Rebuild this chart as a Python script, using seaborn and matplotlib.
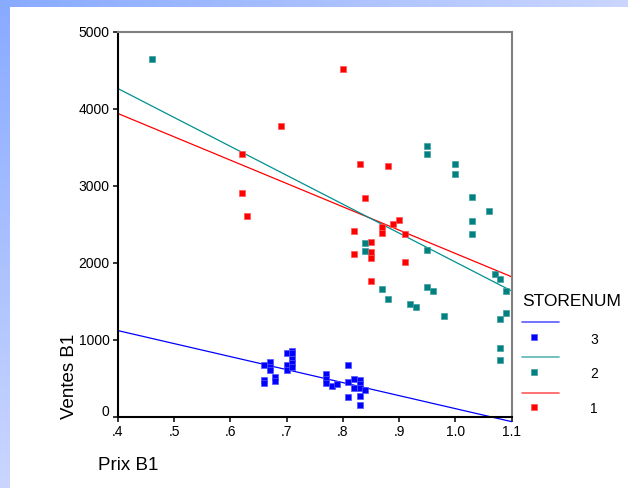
import numpy as np
import pandas as pd
import matplotlib
matplotlib.use("Agg")
import matplotlib.pyplot as plt
from matplotlib.lines import Line2D
import matplotlib.transforms as mtransforms
import seaborn as sns

# ---------------- data ----------------
store1_prix = [.80, .69, .62, .62, .63, .83, .88, .84, .90, .89, .87, .87, .82, .91,
               .85, .85, .85, .82, .91, .85]
store1_ventes = [4520, 3770, 3410, 2910, 2600, 3280, 3255, 2840, 2557, 2497, 2462, 2380,
                 2410, 2367, 2263, 2137, 2056, 2111, 2004, 1761]

store2_prix = [.46, .95, .95, 1.00, 1.00, 1.03, 1.06, 1.03, 1.03, .84, .84, .95, 1.07,
               1.08, 1.09, .87, .88, .95, .96, .92, .93, .98, 1.09, 1.08, 1.08, 1.08]
store2_ventes = [4650, 3520, 3410, 3285, 3150, 2856, 2670, 2536, 2367, 2254, 2150, 2160,
                 1855, 1783, 1627, 1657, 1531, 1679, 1635, 1458, 1427, 1310, 1345, 1263,
                 886, 738]

store3_prix = [.66, .66, .66, .67, .67, .67, .68, .68, .70, .70, .70, .71, .71, .71, .71,
               .71, .81, .77, .77, .77, .78, .79, .81, .81, .82, .82, .83, .83, .83, .83,
               .83, .84]
store3_ventes = [665, 470, 431, 708, 647, 604, 509, 465, 829, 665, 604, 855, 821, 743, 699,
                 647, 669, 548, 487, 435, 400, 426, 452, 249, 483, 366, 474, 418, 366, 266,
                 149, 344]

legend_order = [3, 2, 1]
x_ticks = [.4, .5, .6, .7, .8, .9, 1.0, 1.1]
x_ticklabels = [".4", ".5", ".6", ".7", ".8", ".9", "1.0", "1.1"]
y_ticks = [0, 1000, 2000, 3000, 4000, 5000]
y_ticklabels = ["0", "1000", "2000", "3000", "4000", "5000"]

df = pd.concat([
    pd.DataFrame({"prix": store1_prix, "ventes": store1_ventes, "store": 1}),
    pd.DataFrame({"prix": store2_prix, "ventes": store2_ventes, "store": 2}),
    pd.DataFrame({"prix": store3_prix, "ventes": store3_ventes, "store": 3}),
], ignore_index=True)

colors = {3: "#0000ff", 2: "#008080", 1: "#ff0000"}
edge = {3: "#5555ff", 2: "#40a0a0", 1: "#ff5555"}
line_colors = {3: "#0000ff", 2: "#009090", 1: "#ff0000"}

# ---------------- figure ----------------
sns.set_theme(style="white")
plt.rcParams["font.family"] = ["Liberation Sans", "DejaVu Sans"]

W, H = 628, 488
fig = plt.figure(figsize=(W / 100, H / 100), dpi=100)
fig.patch.set_facecolor("white")

# gradient frame (left and top bars)
c0 = np.array([136, 170, 255]) / 255
c1 = np.array([202, 214, 255]) / 255
grad = np.linspace(0, 1, 256)
left_img = (c0[None, :] * (1 - grad[:, None]) + c1[None, :] * grad[:, None])[:, None, :]
top_img = (c0[None, :] * (1 - grad[:, None]) + c1[None, :] * grad[:, None])[None, :, :]
axl = fig.add_axes([0, 0, 10 / W, 1])
axl.imshow(left_img, aspect="auto", extent=[0, 1, 0, 1])
axl.axis("off")
axt = fig.add_axes([0, 1 - 7 / H, 1, 7 / H])
axt.imshow(top_img, aspect="auto", extent=[0, 1, 0, 1])
axt.axis("off")

L, R, T, B = 118, 511.5, 31.7, 416.5
ax = fig.add_axes([L / W, 1 - B / H, (R - L) / W, (B - T) / H])
ax.set_facecolor("white")
ax.set_xlim(0.4, 1.1)
ax.set_ylim(0, 5000)

for s in [1, 2, 3]:
    sub = df[df["store"] == s]
    sns.regplot(data=sub, x="prix", y="ventes", scatter=False, ci=None, truncate=False,
                color=line_colors[s], line_kws=dict(lw=0.9, clip_on=False, zorder=2), ax=ax)

for s in [1, 2, 3]:
    sub = df[df["store"] == s]
    sns.scatterplot(data=sub, x="prix", y="ventes", color=colors[s], marker="s", s=17,
                    edgecolor=edge[s], linewidth=0.5, ax=ax, zorder=3, legend=False)

ax.set_xlim(0.4, 1.1)
ax.set_ylim(0, 5000)
ax.set_xticks(x_ticks)
ax.set_xticklabels(x_ticklabels)
ax.set_yticks(y_ticks)
ax.set_yticklabels(y_ticklabels)
ax.set_xlabel("")
ax.set_ylabel("")
ax.tick_params(axis="both", which="major", direction="out", length=3.6, width=1.1,
               colors="black", labelsize=10, pad=2.5, bottom=True, left=True)
for lab in ax.get_yticklabels():
    if lab.get_text() == "0":
        lab.set_transform(lab.get_transform() +
                          mtransforms.ScaledTranslation(0, 6 / 100, fig.dpi_scale_trans))

for side in ["left", "bottom"]:
    ax.spines[side].set_color("black")
    ax.spines[side].set_linewidth(1.5)
for side in ["top", "right"]:
    ax.spines[side].set_color("#808080")
    ax.spines[side].set_linewidth(1.5)
for sp in ax.spines.values():
    sp.set_visible(True)

# axis titles
fig.text(98 / W, 1 - 466 / H, "Prix B1", fontsize=13.5, ha="left", va="center", color="black")
fig.text(70 / W, 1 - 419 / H, "Ventes B1", fontsize=13.5, rotation=90, ha="center",
         va="bottom", color="black")

# legend (SPSS style: line row, then marker row with label)
fig.text(522 / W, 1 - 302 / H, "STORENUM", fontsize=12.5, ha="left", va="center",
         color="black")
for i, s in enumerate(legend_order):
    ly = 321.7 + i * 35.5
    fig.add_artist(Line2D([522 / W, 558.5 / W], [1 - ly / H, 1 - ly / H],
                          color=line_colors[s], lw=1.2, alpha=0.65,
                          transform=fig.transFigure))
    my = 337.3 + i * 35
    fig.add_artist(Line2D([534 / W], [1 - my / H], marker="s", ls="none", ms=4.2,
                          color=colors[s], mec=edge[s], mew=0.5,
                          transform=fig.transFigure))
    fig.text(594 / W, 1 - (340 + i * 34.5) / H, str(s), fontsize=10, ha="center",
             va="center", color="black")

fig.savefig("out.png", dpi=100, facecolor="white")
